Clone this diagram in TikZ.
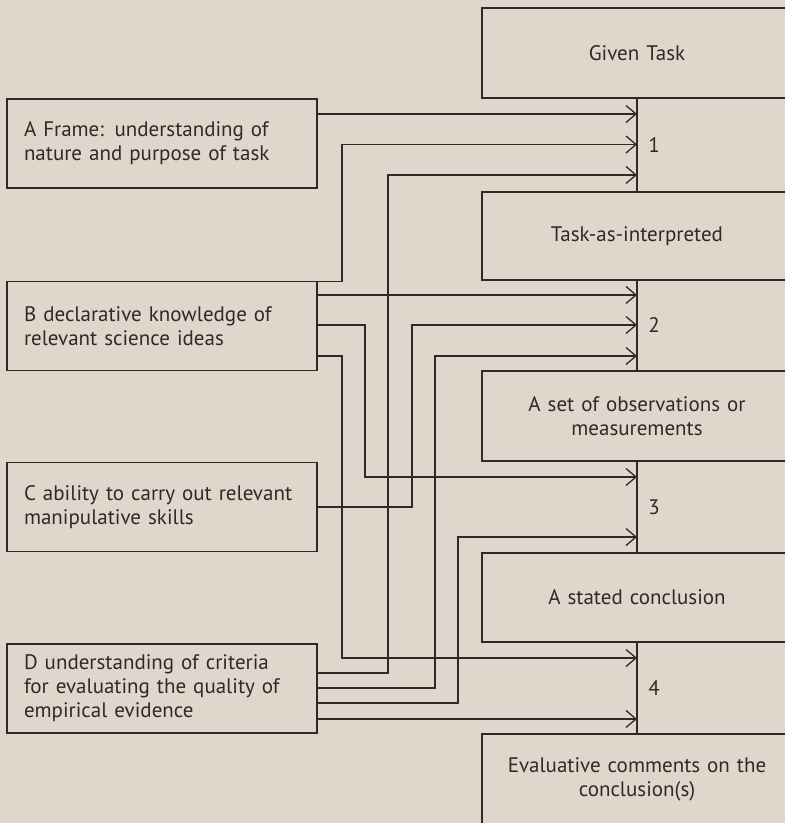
\documentclass[tikz,border=0pt]{standalone}
\usepackage{fontspec}
\setmainfont{PT Sans}
\usetikzlibrary{arrows.meta}
\definecolor{bg}{RGB}{224,215,204}
\definecolor{ink}{RGB}{45,42,40}
\tikzset{
  leftbox/.style={draw=ink, line width=1.3pt, fill=bg, minimum width=310pt, minimum height=89pt,
    text width=276pt, inner xsep=17pt, align=left, font=\fontsize{21}{24}\selectfont, text=ink},
  rightbox/.style={draw=ink, line width=1.3pt, fill=bg, minimum width=310pt,
    text width=290pt, align=center, font=\fontsize{21}{24}\selectfont, text=ink},
  numlabel/.style={font=\fontsize{21}{24}\selectfont, text=ink},
  conn/.style={draw=ink, line width=1.3pt},
  arr/.style={conn, -{Straight Barb[length=10pt,width=17pt]}}
}
\begin{document}
\begin{tikzpicture}[x=1pt,y=-1pt]
\fill[bg] (0,0) rectangle (785,823);
\useasboundingbox (0,0) rectangle (785,823);
\begin{scope}
\clip (0,0) rectangle (785,823);
% right column
\node[rightbox, minimum height=90pt] (G) at (637,53) {Given Task};
\node[rightbox, minimum height=88pt] (T) at (637,236) {Task-as-interpreted};
\node[rightbox, minimum height=90pt] (O) at (637,416) {A set of observations or\\measurements};
\node[rightbox, minimum height=89pt] (S) at (637,597.5) {A stated conclusion};
\node[rightbox, minimum height=90pt] (E) at (637,779) {Evaluative comments on the\\conclusion(s)};
\end{scope}
\draw[conn] (G.south) -- (T.north);
\draw[conn] (T.south) -- (O.north);
\draw[conn] (O.south) -- (S.north);
\draw[conn] (S.south) -- (E.north);
\node[numlabel] (n1) at (654,145) {1};
\node[numlabel] (n2) at (654,325.5) {2};
\node[numlabel] (n3) at (654,507) {3};
\node[numlabel] (n4) at (654,688) {4};
% left column
\node[leftbox] (A) at (162,143.5) {A Frame: understanding of\\nature and purpose of task};
\node[leftbox] (B) at (162,326) {B declarative knowledge of\\relevant science ideas};
\node[leftbox] (C) at (162,507) {C ability to carry out relevant\\manipulative skills};
\node[leftbox] (D) at (162,688.5) {D understanding of criteria\\for evaluating the quality of\\empirical evidence};
% arrow targets
\coordinate (t1a) at (637,114);
\coordinate (t1b) at (637,144.5);
\coordinate (t1c) at (637,175);
\coordinate (t2a) at (637,295);
\coordinate (t2b) at (637,325);
\coordinate (t2c) at (637,356);
\coordinate (t3a) at (637,477);
\coordinate (t3b) at (637,537);
\coordinate (t4a) at (637,658);
\coordinate (t4b) at (637,719);
% connectors
\draw[arr] (B.east |- 0,281.5) -- (342,281.5) -- (342,144.5) -- (t1b);
\draw[arr] (A.east |- t1a) -- (t1a);
\draw[arr] (D.east |- 0,673) -- (388,673) -- (388,175) -- (t1c);
\draw[arr] (B.east |- t2a) -- (t2a);
\draw[arr] (C.east |- 0,507) -- (412,507) -- (412,325) -- (t2b);
\draw[arr] (D.east |- 0,688) -- (435,688) -- (435,356) -- (t2c);
\draw[arr] (B.east |- 0,325) -- (365,325) -- (365,477) -- (t3a);
\draw[arr] (D.east |- 0,703) -- (458,703) -- (458,537) -- (t3b);
\draw[arr] (B.east |- 0,356) -- (342,356) -- (342,658) -- (t4a);
\draw[arr] (D.east |- t4b) -- (t4b);
\end{tikzpicture}
\end{document}
